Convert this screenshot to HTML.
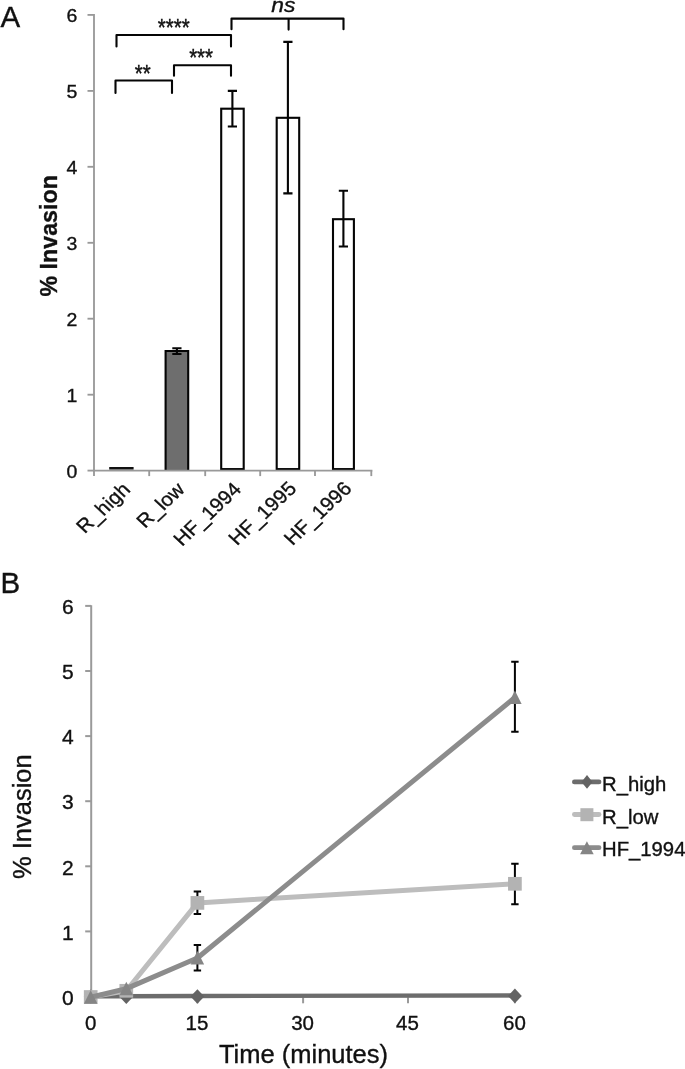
<!DOCTYPE html>
<html lang="en"><head><meta charset="utf-8"><title>Figure</title>
<style>
html,body{margin:0;padding:0;background:#fff;}
body{width:685px;height:1069px;overflow:hidden;}
svg{display:block;filter:blur(0.3px);}
text{font-family:"Liberation Sans",Arial,Helvetica,sans-serif;fill:#111;stroke:#111;stroke-width:0.35px;}
.ax{stroke:#999;stroke-width:1.85;fill:none;}
.axb{stroke:#9a9a9a;stroke-width:2;fill:none;}
.bk{stroke:#050505;stroke-width:2.1;fill:none;}
.eb{stroke:#050505;stroke-width:2.1;fill:none;}
.ebb{stroke:#050505;stroke-width:2;fill:none;}
.tl{font-size:18.4px;}
.tlb{font-size:21px;}
</style></head><body>
<svg width="685" height="1069" viewBox="0 0 685 1069">
<rect width="685" height="1069" fill="#fff"/>

<text x="0.5" y="27" font-size="29.5">A</text>
<path class="ax" d="M94 14.0V471.5"/>
<path class="ax" d="M87.5 470.6H94"/>
<text class="tl" transform="translate(77.4,478.0) scale(1.06,1)" text-anchor="end">0</text>
<path class="ax" d="M87.5 394.7H94"/>
<text class="tl" transform="translate(77.4,402.1) scale(1.06,1)" text-anchor="end">1</text>
<path class="ax" d="M87.5 318.7H94"/>
<text class="tl" transform="translate(77.4,326.1) scale(1.06,1)" text-anchor="end">2</text>
<path class="ax" d="M87.5 242.8H94"/>
<text class="tl" transform="translate(77.4,250.2) scale(1.06,1)" text-anchor="end">3</text>
<path class="ax" d="M87.5 166.8H94"/>
<text class="tl" transform="translate(77.4,174.2) scale(1.06,1)" text-anchor="end">4</text>
<path class="ax" d="M87.5 90.9H94"/>
<text class="tl" transform="translate(77.4,98.3) scale(1.06,1)" text-anchor="end">5</text>
<path class="ax" d="M87.5 14.9H94"/>
<text class="tl" transform="translate(77.4,22.3) scale(1.06,1)" text-anchor="end">6</text>
<text transform="translate(56.7,235.8) rotate(-90) scale(0.945,1)" text-anchor="middle" font-size="24.6" font-weight="bold" stroke-width="0.4">% Invasion</text>
<rect x="109.2" y="467.0" width="24.4" height="2.6" fill="#111"/>
<text font-size="20.1" transform="translate(131.4,490.6) scale(1.03,0.965) rotate(-45)" text-anchor="end" letter-spacing="0.06">R_high</text>
<path d="M165.6 470.0V351.0h22.6V470.0" fill="#6e6e6e" stroke="#050505" stroke-width="2.1"/>
<path class="eb" d="M176.9 348.3V354.0M172.3 348.3h9.2M172.3 354.0h9.2"/>
<text font-size="20.1" transform="translate(185.8,490.6) scale(1.03,0.965) rotate(-45)" text-anchor="end" letter-spacing="0.06">R_low</text>
<rect x="221.2" y="108.7" width="22.5" height="360.4" fill="#fff" stroke="#050505" stroke-width="2.1"/>
<path class="eb" d="M232.4 90.9V126.5M227.8 90.9h9.2M227.8 126.5h9.2"/>
<text font-size="20.1" transform="translate(242.4,490.3) scale(1.03,0.965) rotate(-45)" text-anchor="end" letter-spacing="0.06">HF_1994</text>
<rect x="276.7" y="117.8" width="22.5" height="351.3" fill="#fff" stroke="#050505" stroke-width="2.1"/>
<path class="eb" d="M287.9 41.9V193.4M283.3 41.9h9.2M283.3 193.4h9.2"/>
<text font-size="20.1" transform="translate(297.6,489.6) scale(1.03,0.965) rotate(-45)" text-anchor="end" letter-spacing="0.06">HF_1995</text>
<rect x="333.0" y="219.2" width="20.9" height="249.9" fill="#fff" stroke="#050505" stroke-width="2.1"/>
<path class="eb" d="M343.4 190.7V246.5M338.8 190.7h9.2M338.8 246.5h9.2"/>
<text font-size="20.1" transform="translate(352.9,489.6) scale(1.03,0.965) rotate(-45)" text-anchor="end" letter-spacing="0.06">HF_1996</text>
<path class="ax" d="M93.1 470.6H372.4"/>
<path class="ax" d="M94 470.6V476.1"/>
<path class="ax" d="M149.2 470.6V476.1"/>
<path class="ax" d="M205.2 470.6V476.1"/>
<path class="ax" d="M260.2 470.6V476.1"/>
<path class="ax" d="M315.0 470.6V476.1"/>
<path class="ax" d="M371.3 470.6V476.1"/>
<path class="bk" stroke-linejoin="round" stroke-linecap="round" d="M116.5 46.5V35H231V46.5"/>
<path class="bk" stroke-linejoin="round" stroke-linecap="round" d="M115.5 93.0V80.5H172V93.0"/>
<path class="bk" stroke-linejoin="round" stroke-linecap="round" d="M174 75.8V65.3H231V75.8"/>
<path class="bk" stroke-linejoin="round" stroke-linecap="round" d="M231.5 29.3V18.6H343.5V29.3M288.6 18.6V29.6"/>
<text transform="translate(173.8,28.2) scale(1,1.15)" x="0" y="6.8" font-size="20.5" text-anchor="middle" stroke-width="0.2">****</text>
<text transform="translate(142.7,74.3) scale(1,1.15)" x="0" y="6.8" font-size="20.5" text-anchor="middle" stroke-width="0.2">**</text>
<text transform="translate(201.1,58.4) scale(1,1.15)" x="0" y="6.8" font-size="20.5" text-anchor="middle" stroke-width="0.2">***</text>
<text transform="translate(283.4,12.1) scale(1.1,1)" font-size="20.8" font-style="italic" text-anchor="middle" stroke-width="0.15">ns</text>
<text x="0.5" y="593" font-size="29.5">B</text>
<path class="axb" d="M91.2 605.2V997.2"/>
<path class="axb" d="M85.2 996.5H91.2"/>
<text class="tlb" x="73.8" y="1004.7" text-anchor="end">0</text>
<path class="axb" d="M85.2 931.4H91.2"/>
<text class="tlb" x="73.8" y="939.6" text-anchor="end">1</text>
<path class="axb" d="M85.2 866.3H91.2"/>
<text class="tlb" x="73.8" y="874.5" text-anchor="end">2</text>
<path class="axb" d="M85.2 801.2H91.2"/>
<text class="tlb" x="73.8" y="809.4" text-anchor="end">3</text>
<path class="axb" d="M85.2 736.1H91.2"/>
<text class="tlb" x="73.8" y="744.3" text-anchor="end">4</text>
<path class="axb" d="M85.2 671.0H91.2"/>
<text class="tlb" x="73.8" y="679.2" text-anchor="end">5</text>
<path class="axb" d="M85.2 605.9H91.2"/>
<text class="tlb" x="73.8" y="614.1" text-anchor="end">6</text>
<path class="axb" d="M91.2 996.5H514.9"/>
<path class="axb" d="M91.2 996.5V1003.3"/>
<text x="90.7" y="1029.9" font-size="20.5" text-anchor="middle">0</text>
<path class="axb" d="M197.4 996.5V1003.3"/>
<text x="196.9" y="1029.9" font-size="20.5" text-anchor="middle">15</text>
<path class="axb" d="M303.1 996.5V1003.3"/>
<text x="302.6" y="1029.9" font-size="20.5" text-anchor="middle">30</text>
<path class="axb" d="M408.0 996.5V1003.3"/>
<text x="407.5" y="1029.9" font-size="20.5" text-anchor="middle">45</text>
<path class="axb" d="M514.9 996.5V1003.3"/>
<text x="514.4" y="1029.9" font-size="20.5" text-anchor="middle">60</text>
<text transform="translate(30.6,816.7) rotate(-90)" text-anchor="middle" font-size="25.5">% Invasion</text>
<text x="303.5" y="1063.3" text-anchor="middle" font-size="25.5">Time (minutes)</text>
<polyline points="90.7,996.3 126.3,996.2 197.4,996.0 514.9,995.4" fill="none" stroke="#6c6c6c" stroke-width="4.4" stroke-linejoin="round"/>
<path d="M90.7 989.5l6.9 7.3l-6.9 7.3l-6.9 -7.3z" fill="#636363"/>
<path d="M126.3 989.4l6.9 7.3l-6.9 7.3l-6.9 -7.3z" fill="#636363"/>
<path d="M197.4 989.2l6.9 7.3l-6.9 7.3l-6.9 -7.3z" fill="#636363"/>
<path d="M514.9 988.6l6.9 7.3l-6.9 7.3l-6.9 -7.3z" fill="#636363"/>
<path class="ebb" d="M197.4 891.6V914.1M193.7 891.6h7.4M193.7 914.1h7.4"/>
<path class="ebb" d="M514.9 863.8V904.3M511.2 863.8h7.4M511.2 904.3h7.4"/>
<polyline points="90.7,997.0 126.3,990.8 197.4,902.9 514.9,883.8" fill="none" stroke="#bdbdbd" stroke-width="5.0" stroke-linejoin="round"/>
<rect x="83.85" y="990.15" width="13.7" height="13.7" fill="#b3b3b3"/>
<rect x="119.45" y="983.95" width="13.7" height="13.7" fill="#b3b3b3"/>
<rect x="190.55" y="896.05" width="13.7" height="13.7" fill="#b3b3b3"/>
<rect x="508.05" y="876.95" width="13.7" height="13.7" fill="#b3b3b3"/>
<path class="ebb" d="M197.4 944.95V970.5M193.7 944.95h7.4M193.7 970.5h7.4"/>
<path class="ebb" d="M514.9 661.8V731.7M511.2 661.8h7.4M511.2 731.7h7.4"/>
<polyline points="90.7,997.2 126.3,988.6 197.4,958.0 514.9,697.5" fill="none" stroke="#8c8c8c" stroke-width="5.0" stroke-linejoin="round"/>
<path d="M90.7 990.3l6.75 13.5h-13.5z" fill="#858585"/>
<path d="M126.3 981.7l6.75 13.5h-13.5z" fill="#858585"/>
<path d="M197.4 951.1l6.75 13.5h-13.5z" fill="#858585"/>
<path d="M514.9 690.6l6.75 13.5h-13.5z" fill="#858585"/>
<path d="M574.4 781.9H599" stroke="#6c6c6c" stroke-width="4.8" stroke-linecap="round" fill="none"/>
<path d="M587.0 775.1l5.5 6.8l-5.5 6.8l-5.5 -6.8z" fill="#636363"/>
<text x="602" y="791" font-size="20.3">R_high</text>
<path d="M574.4 814.5H599" stroke="#bdbdbd" stroke-width="4.8" stroke-linecap="round" fill="none"/>
<rect x="580.40" y="808.20" width="13.0" height="13.0" fill="#b3b3b3"/>
<text x="602" y="824" font-size="20.3">R_low</text>
<path d="M574.4 847.7H599" stroke="#8c8c8c" stroke-width="4.8" stroke-linecap="round" fill="none"/>
<path d="M586.9 841.2l6.8 13.0h-13.6z" fill="#858585"/>
<text x="602" y="855.9" font-size="20.3">HF_1994</text>
</svg></body></html>
